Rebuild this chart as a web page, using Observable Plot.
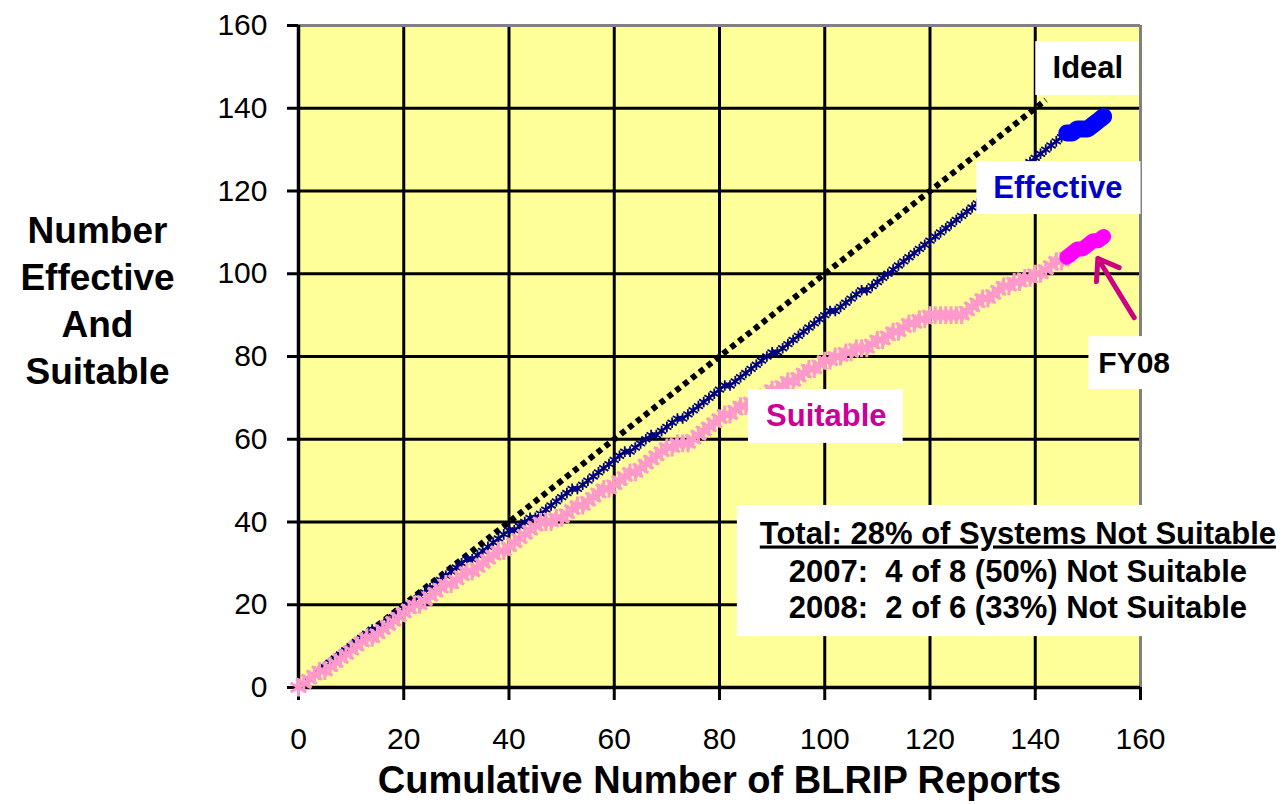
<!DOCTYPE html>
<html><head><meta charset="utf-8">
<script src="https://cdn.jsdelivr.net/npm/d3@7"></script>
<script src="https://cdn.jsdelivr.net/npm/@observablehq/plot@0.6"></script>
<style>
html,body{margin:0;padding:0;background:#fff;overflow:hidden;}
svg text{white-space:pre;}
</style></head><body><div id="chart"></div>
<script>
// Cumulative number of BLRIP reports (x) and cumulative counts (y)
const reports = [0,1,2,3,4,5,6,7,8,9,10,11,12,13,14,15,16,17,18,19,20,21,22,23,24,25,26,27,28,29,30,31,32,33,34,35,36,37,38,39,40,41,42,43,44,45,46,47,48,49,50,51,52,53,54,55,56,57,58,59,60,61,62,63,64,65,66,67,68,69,70,71,72,73,74,75,76,77,78,79,80,81,82,83,84,85,86,87,88,89,90,91,92,93,94,95,96,97,98,99,100,101,102,103,104,105,106,107,108,109,110,111,112,113,114,115,116,117,118,119,120,121,122,123,124,125,126,127,128,129,130,131,132,133,134,135,136,137,138,139,140,141,142,143,144,145,146];
const effective = [0,1,2,3,4,5,6,7,8,9,10,11,12,13,14,
  14,15,16,17,18,19,20,21,22,23,24,25,26,27,28,29,
  30,31,31,32,33,34,35,36,37,38,
  38,39,40,41,41,42,43,44,45,46,
  47,48,48,49,50,51,52,53,54,55,
  56,57,57,58,59,60,61,61,62,63,
  64,65,65,66,67,68,69,70,71,72,
  73,73,74,75,76,77,78,79,80,81,
  81,82,83,84,85,86,87,88,89,90,
  91,91,92,93,94,95,96,96,97,98,
  99,100,101,102,103,104,105,106,107,108,
  109,110,111,112,113,114,115,116,117,118,
  119,120,121,122,123,124,125,126,127,128,
  129,130,131,132,133,134];
const suitable = [0,1,2,3,4,4,5,6,7,8,9,
  10,11,12,12,13,14,15,16,17,18,
  19,20,20,21,22,23,24,25,25,26,
  27,28,28,29,30,31,32,33,33,34,
  35,36,37,38,39,40,40,40,41,41,
  42,43,44,44,45,46,47,48,48,49,
  50,51,52,52,53,54,55,56,57,58,
  58,59,59,59,60,61,62,63,64,65,
  66,66,67,68,68,69,70,70,71,72,
  72,73,74,74,75,76,77,77,78,79,
  79,80,80,81,81,82,82,82,83,84,
  84,85,86,86,87,88,88,89,89,90,
  90,90,90,90,90,90,91,92,93,94,
  94,95,96,97,97,98,98,99,99,100,
  100,101,102,103,103,104];
// FY08 segment
const fy08Reports = [146,147,148,149,150,151,152,153];
const fy08Effective = [134,134,135,135,135,136,137,138];
const fy08Suitable = [104,105,106,106,107,108,108,109];
// Ideal line (one effective & suitable system per report)
const idealReports = [0, 142];

const xTicks = [0,20,40,60,80,100,120,140,160];
const yTicks = [0,20,40,60,80,100,120,140,160];
const gridTicks = [20,40,60,80,100,120,140];

const yTitle = "Number\nEffective\nAnd\nSuitable";
const xTitle = "Cumulative Number of BLRIP Reports";
const seriesLabels = ["Ideal", "Effective", "Suitable", "FY08"];
const notes = ["Total: 28% of Systems Not Suitable",
               "2007:  4 of 8 (50%) Not Suitable",
               "2008:  2 of 6 (33%) Not Suitable"];

const main = reports.map((r, i) => ({r, e: effective[i], s: suitable[i]}));
const fy = fy08Reports.map((r, i) => ({r, e: fy08Effective[i], s: fy08Suitable[i]}));

const font = "'Liberation Sans', Arial, Helvetica, sans-serif";
const box = (x1, x2, y1, y2) => Plot.rect([0], {x1: () => x1, x2: () => x2, y1: () => y1, y2: () => y2, fill: "#ffffff"});
const label = (t, x, y, color, size) => Plot.text([t], {x: () => x, y: () => y, text: d => d, fill: color, fontSize: size, fontWeight: "bold", textAnchor: "middle", lineAnchor: "middle"});

const plot = Plot.plot({
  width: 1288, height: 804,
  marginLeft: 298, marginRight: 148, marginTop: 25, marginBottom: 117,
  x: {domain: [0, 160]},
  y: {domain: [0, 160]},
  style: {fontFamily: font, background: "#ffffff", color: "#000000", overflow: "visible"},
  marks: [
    Plot.frame({fill: "#ffff99", stroke: "none"}),
    Plot.ruleX(gridTicks, {stroke: "#000", strokeWidth: 3}),
    Plot.ruleY(gridTicks, {stroke: "#000", strokeWidth: 3}),
    Plot.ruleX([160], {stroke: "#808080", strokeWidth: 3}),
    Plot.ruleY([160], {stroke: "#808080", strokeWidth: 3}),
    Plot.axisY(yTicks, {tickSize: 11, tickPadding: 20, fontSize: 30, strokeWidth: 3, stroke: "#000", fill: "#000", label: null, tickFormat: d => String(d)}),
    Plot.axisX(xTicks, {tickSize: 13, tickPadding: 27, fontSize: 30, strokeWidth: 3, stroke: "#000", fill: "#000", label: null, tickFormat: d => String(d)}),
    Plot.ruleX([0], {stroke: "#000", strokeWidth: 3.5}),
    Plot.ruleY([0], {stroke: "#000", strokeWidth: 3.5}),
    Plot.line(idealReports, {x: d => d, y: d => d, stroke: "#010101", strokeWidth: 6, strokeDasharray: "5.5,4.5", strokeLinecap: "butt"}),
    Plot.line(main, {x: "r", y: "e", stroke: "#000080", strokeWidth: 2.2}),
    Plot.dot(main, {x: "r", y: "e", symbol: "asterisk", r: 5, stroke: "#000080", strokeWidth: 1.8}),
    Plot.line(main, {x: "r", y: "s", stroke: "#ff99cc", strokeWidth: 3}),
    Plot.dot(main, {x: "r", y: "s", symbol: "asterisk", r: 8.5, stroke: "#ff99cc", strokeWidth: 3}),
    Plot.line(fy, {x: "r", y: "e", stroke: "#0000ff", strokeWidth: 17, strokeLinecap: "round", strokeLinejoin: "round"}),
    Plot.line(fy, {x: "r", y: "s", stroke: "#ff00ff", strokeWidth: 15, strokeLinecap: "round", strokeLinejoin: "round"}),
    // label boxes
    box(140.1, 159.7, 143.1, 156.1),
    box(128.9, 160.1, 114.3, 127.1),
    box(85.5, 114.9, 59.0, 72.0),
    box(150.2, 168.4, 72.0, 84.8),
    box(83.4, 190, 12.3, 44.0),
    label(seriesLabels[0], 150.0, 149.6, "#000000", 31),
    label(seriesLabels[1], 144.3, 120.6, "#0000cc", 31),
    label(seriesLabels[2], 100.3, 65.5, "#cc0099", 31),
    label(seriesLabels[3], 158.8, 78.3, "#000000", 30),
    label(notes[0], 136.7, 37.2, "#000000", 31),
    label(notes[1], 136.7, 27.8, "#000000", 31),
    label(notes[2], 136.7, 19.1, "#000000", 31),
    Plot.arrow([0], {x1: () => 158.8, y1: () => 89.4, x2: () => 151.9, y2: () => 103.7, stroke: "#cc0080", strokeWidth: 5, headLength: 12, headAngle: 70}),
    // titles
    Plot.text([yTitle], {frameAnchor: "left", dx: -201, dy: -58, text: d => d, fontSize: 37, fontWeight: "bold", lineHeight: 1.27, textAnchor: "middle"}),
    Plot.text([xTitle], {frameAnchor: "bottom", dy: 93, text: d => d, fontSize: 38, fontWeight: "bold", textAnchor: "middle", lineAnchor: "middle"})
  ]
});
document.getElementById("chart").appendChild(plot);
const svg = d3.select(plot);
svg.selectAll("text").filter(function() { return this.textContent.startsWith("Total"); })
  .style("text-decoration", "underline");
svg.selectAll('[stroke="#010101"]').attr("stroke-dasharray", "5.5,4.5").attr("stroke-linecap", "butt").attr("stroke-width", 6)
  .selectAll("path").attr("stroke-dasharray", "5.5,4.5").attr("stroke-width", 6);
</script></body></html>
